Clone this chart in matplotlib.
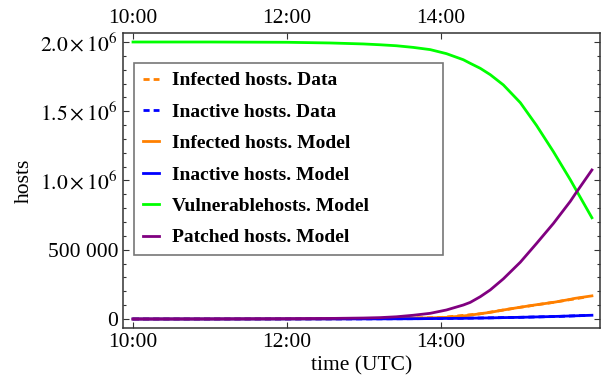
import matplotlib
matplotlib.use("Agg")
import matplotlib.pyplot as plt
from matplotlib.ticker import FixedLocator, MultipleLocator, FuncFormatter

plt.rcParams['font.family'] = ['Liberation Serif', 'DejaVu Serif']
plt.rcParams['mathtext.fontset'] = 'stix'

# hours after 10:00 UTC, values in millions of hosts
t_model = [0, 1, 2, 2.56, 2.99, 3.21, 3.42, 3.64, 3.86, 4.07, 4.29, 4.38, 4.51, 4.64, 4.81,
           5.03, 5.24, 5.46, 5.68, 5.74, 5.96]
vulnerable = [2.0, 2.0, 1.998, 1.993, 1.986, 1.98, 1.973, 1.961, 1.945, 1.916, 1.872, 1.846, 1.81,
              1.764, 1.69, 1.562, 1.398, 1.208, 1.005, 0.946, 0.731]
patched = [0, 0.0005, 0.002, 0.004, 0.007, 0.01, 0.016, 0.027, 0.041, 0.065, 0.101, 0.12, 0.161,
           0.21, 0.29, 0.41, 0.545, 0.69, 0.85, 0.9, 1.076]
infected = [0, 0.0002, 0.0008, 0.0015, 0.003, 0.004, 0.005, 0.007, 0.008, 0.012, 0.022, 0.028, 0.038,
            0.048, 0.065, 0.085, 0.103, 0.12, 0.142, 0.149, 0.167]
inactive = [0, 0, 0.0002, 0.0004, 0.0008, 0.001, 0.0015, 0.002, 0.003, 0.004, 0.005, 0.006, 0.007,
            0.008, 0.01, 0.012, 0.015, 0.018, 0.022, 0.023, 0.027]

t_data = [0, 1, 2, 3, 3.5, 4, 4.5, 5, 5.5, 5.9]
infected_data = [0, 0.0002, 0.0008, 0.003, 0.005, 0.011, 0.037, 0.082, 0.124, 0.16]
inactive_data = [0, 0, 0.0002, 0.0008, 0.0017, 0.0035, 0.007, 0.012, 0.018, 0.026]

tick_hours = [0, 2, 4]
tick_labels = ["10:00", "12:00", "14:00"]

fig = plt.figure(figsize=(6.01, 3.85), dpi=100)
ax = fig.add_axes([123 / 601, 1 - 328 / 385, 477 / 601, 295 / 385])

M = 1e6
dash = (0, (2.2, 1.45))
ax.plot(t_data, [v * M for v in infected_data], color='#FF8000', lw=2, ls=dash, label='Infected hosts. Data')
ax.plot(t_data, [v * M for v in inactive_data], color='#0000FF', lw=2, ls=dash, label='Inactive hosts. Data')
ax.plot(t_model, [v * M for v in infected], color='#FF8000', lw=2, label='Infected hosts. Model')
ax.plot(t_model, [v * M for v in inactive], color='#0000FF', lw=2, label='Inactive hosts. Model')
ax.plot(t_model, [v * M for v in vulnerable], color='#00FF00', lw=2, label='Vulnerablehosts. Model')
ax.plot(t_model, [v * M for v in patched], color='#800080', lw=2, label='Patched hosts. Model')

ax.set_xlim(-10 / 77, 467 / 77)
ax.set_ylim(-0.065 * M, 2.065 * M)

ax.xaxis.set_major_locator(FixedLocator(tick_hours))
ax.set_xticks(tick_hours)
ax.set_xticklabels(tick_labels)
ax.yaxis.set_major_locator(MultipleLocator(0.5 * M))
ax.yaxis.set_minor_locator(MultipleLocator(0.1 * M))

def yfmt(v, pos):
    if abs(v) < 1:
        return "0"
    if abs(v - 0.5 * M) < 1:
        return "500 000"
    return r"$%.1f\times10^{6}$" % (v / M)

ax.yaxis.set_major_formatter(FuncFormatter(yfmt))
ax.tick_params(which='both', direction='in', top=True, right=True, labeltop=True,
               labelsize=15.5, color='#333333', width=0.8)
ax.tick_params(which='major', length=4.5)
ax.tick_params(which='minor', length=2.2)
ax.tick_params(axis='x', which='minor', top=False, bottom=False)
for s in ax.spines.values():
    s.set_color('#333333')
    s.set_linewidth(1.1)

ax.set_xlabel("time (UTC)", fontsize=15.5, labelpad=3)
ax.set_ylabel("hosts", fontsize=15.5, labelpad=5)

leg = ax.legend(loc='upper left', bbox_to_anchor=(11 / 477, 0.0, 309 / 477, 265 / 295),
                mode='expand', frameon=True, fancybox=False, borderpad=0.45,
                labelspacing=0.71, handlelength=0.82, handletextpad=0.7,
                borderaxespad=0, prop={'weight': 'bold', 'size': 14})
leg.get_frame().set_edgecolor('#555555')
leg.get_frame().set_linewidth(1.2)

fig.savefig("out.png", dpi=100)
